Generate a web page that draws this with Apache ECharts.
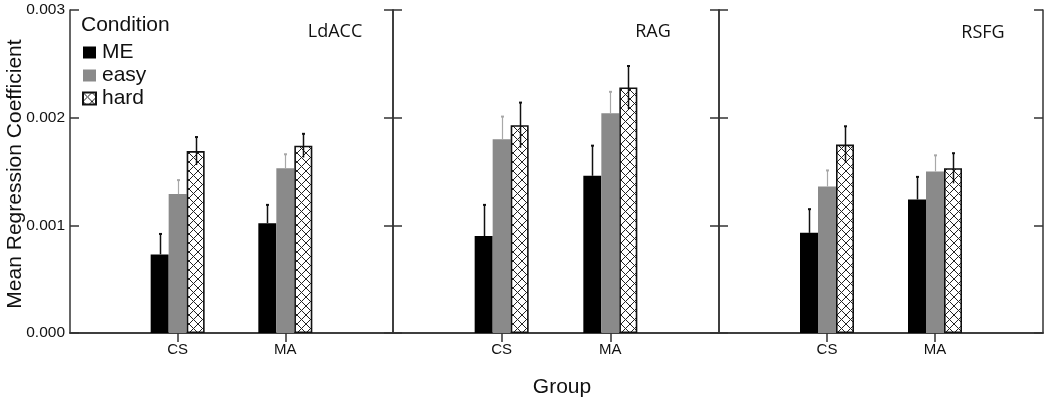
<!DOCTYPE html>
<html><head><meta charset="utf-8">
<script src="https://cdn.jsdelivr.net/npm/echarts@6/dist/echarts.min.js"></script>
<style>html,body{margin:0;padding:0;background:#fff}#c{width:1050px;height:405px}</style>
</head><body><div id="c"></div>
<script>
// ---- data ----
const regions = ['LdACC', 'RAG', 'RSFG'];
const groups = ['CS', 'MA'];
const conditions = ['ME', 'easy', 'hard'];
const yTickLabels = ['0.000', '0.001', '0.002', '0.003'];
// mean values per region: [CS, MA]
const meanME   = [[0.00073, 0.00102], [0.00090, 0.00146], [0.00093, 0.00124]];
const meanEasy = [[0.00129, 0.00153], [0.00180, 0.00204], [0.00136, 0.00150]];
const meanHard = [[0.00169, 0.00174], [0.00193, 0.00228], [0.00175, 0.00153]];
// standard errors per region: [CS, MA]
const seME   = [[0.00019, 0.00017], [0.00029, 0.00028], [0.00022, 0.00021]];
const seEasy = [[0.00013, 0.00013], [0.00021, 0.00020], [0.00015, 0.00015]];
const seHard = [[0.00013, 0.00011], [0.00021, 0.00020], [0.00017, 0.00014]];

// ---- chart ----
const hatch = document.createElement('canvas');
hatch.width = 9; hatch.height = 9;
(function () {
  const g = hatch.getContext('2d');
  g.fillStyle = '#fff'; g.fillRect(0, 0, 9, 9);
  g.strokeStyle = '#222'; g.lineWidth = 1;
  g.beginPath(); g.moveTo(0, 0); g.lineTo(9, 9); g.moveTo(9, 0); g.lineTo(0, 9); g.stroke();
})();

const means = [meanME, meanEasy, meanHard];
const ses = [seME, seEasy, seHard];
const styles = [
  { color: '#000', borderColor: '#000', borderWidth: 0 },
  { color: '#8a8a8a', borderColor: '#8a8a8a', borderWidth: 0 },
  { color: { image: hatch, repeat: 'repeat' }, borderColor: '#111', borderWidth: 1.6 }
];
const errColors = ['#111', '#a8a8a8', '#111'];
const errWidths = [1.5, 1.2, 1.5];
const errBothSides = [false, false, true];
const barW = 18;

const cats = ['', ...groups, ''];
const lefts = [70, 393, 719];
const widths = [323, 326, 324];
const lineStyle = { color: '#333', width: 1.5 };
const sans = 'Liberation Sans';

const grid = [], xAxis = [], yAxis = [], series = [];
regions.forEach((r, g) => {
  grid.push({ left: lefts[g], width: widths[g], top: 10, height: 323 });
  xAxis.push({
    type: 'category', gridIndex: g, data: cats, boundaryGap: false, position: 'bottom',
    axisLine: { lineStyle }, axisTick: { show: false },
    axisLabel: { fontFamily: sans, fontSize: 15, color: '#111', margin: 9, interval: 0 }
  });
  xAxis.push({
    type: 'category', gridIndex: g, data: cats, boundaryGap: false, position: 'top',
    axisLine: { lineStyle },
    axisTick: { show: true, inside: true, length: 9, lineStyle, interval: (i) => i === 1 || i === 2 },
    axisLabel: { show: false }
  });
  const yBase = {
    type: 'value', gridIndex: g, min: 0, max: 0.003, interval: 0.001,
    axisLine: { show: true, lineStyle }, splitLine: { show: false },
    axisTick: { show: true, inside: true, length: 9, lineStyle }
  };
  yAxis.push(Object.assign({}, yBase, {
    position: 'left',
    axisLabel: {
      show: g === 0, fontFamily: sans, fontSize: 15.5, color: '#111', margin: 5,
      formatter: (v) => yTickLabels[Math.round(v / 0.001)]
    }
  }));
  yAxis.push(Object.assign({}, yBase, { position: 'right', axisLabel: { show: false } }));

  conditions.forEach((c, k) => {
    series.push({
      name: c, type: 'bar', xAxisIndex: g * 2, yAxisIndex: g * 2,
      barWidth: barW, barGap: '0%',
      itemStyle: styles[k], silent: true,
      data: groups.map((gr, j) => [j + 1, means[k][g][j]])
    });
  });
  conditions.forEach((c, k) => {
    series.push({
      type: 'custom', xAxisIndex: g * 2, yAxisIndex: g * 2, z: 5, silent: true,
      data: groups.map((gr, j) => [j + 1, means[k][g][j], ses[k][g][j]]),
      renderItem: (params, api) => {
        const x = api.value(0), m = api.value(1), e = api.value(2);
        const top = api.coord([x, m + e]);
        const bot = api.coord([x, errBothSides[k] ? m - e : m]);
        const cx = Math.round(top[0] + (k - 1) * barW) + 0.5;
        return {
          type: 'group', children: [
            { type: 'line', shape: { x1: cx, y1: top[1], x2: cx, y2: bot[1] },
              style: { stroke: errColors[k], lineWidth: errWidths[k] } },
            { type: 'line', shape: { x1: cx - 1.5, y1: top[1], x2: cx + 1.5, y2: top[1] },
              style: { stroke: errColors[k], lineWidth: 2 } }
          ]
        };
      }
    });
  });
});

const panelTitlePos = [[335, 32], [653, 32], [983, 33]];
const graphic = regions.map((r, g) => ({
  type: 'text', x: panelTitlePos[g][0], y: panelTitlePos[g][1],
  style: { text: r, fontFamily: 'Open Sans', fontSize: 18, fill: '#111', textAlign: 'center', textVerticalAlign: 'middle' }
}));
graphic.push({
  type: 'text', x: 81, y: 25,
  style: { text: 'Condition', fontFamily: sans, fontSize: 21, fill: '#111', textVerticalAlign: 'middle' }
});
graphic.push({
  type: 'text', x: 15, y: 174, rotation: Math.PI / 2,
  style: { text: 'Mean Regression Coefficient', fontFamily: sans, fontSize: 21, fill: '#111', textAlign: 'center', textVerticalAlign: 'middle' }
});
graphic.push({
  type: 'text', x: 562, y: 387,
  style: { text: 'Group', fontFamily: sans, fontSize: 21, fill: '#111', textAlign: 'center', textVerticalAlign: 'middle' }
});

const chart = echarts.init(document.getElementById('c'), null, { renderer: 'canvas' });
chart.setOption({
  animation: false,
  backgroundColor: '#fff',
  grid, xAxis, yAxis, series, graphic,
  legend: {
    data: conditions, orient: 'vertical', left: 77, top: 37,
    itemWidth: 13, itemHeight: 12, itemGap: 2, icon: 'rect',
    textStyle: { fontFamily: sans, fontSize: 21, color: '#111', padding: [0, 0, 0, 1] },
    selectedMode: false
  }
});
</script>
</body></html>
